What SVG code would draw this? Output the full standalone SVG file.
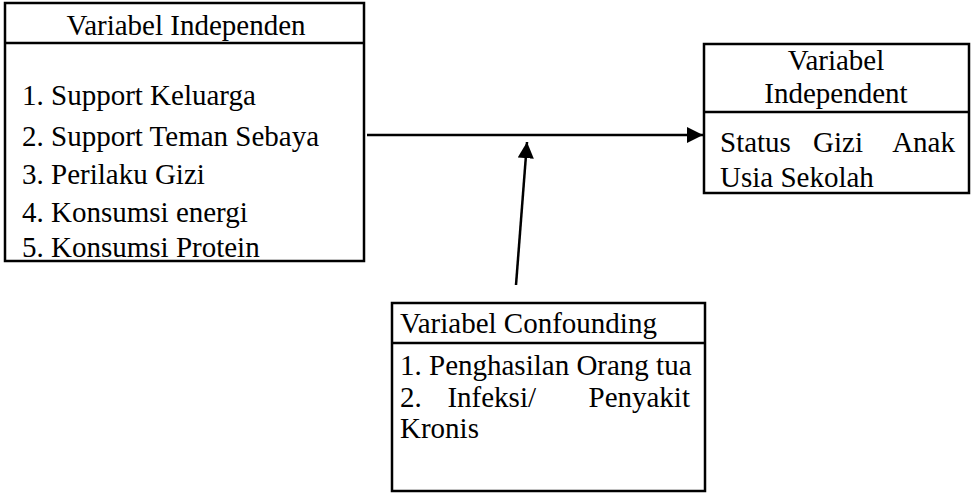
<svg xmlns="http://www.w3.org/2000/svg" width="971" height="493" viewBox="0 0 971 493">
<style>
.box{fill:#fff;stroke:#000;stroke-width:2.5}
.div{stroke:#000;stroke-width:2.5}
text{font-family:"Liberation Serif","Times New Roman",serif;font-size:29px;fill:#000}
.c{text-anchor:middle}
.e{text-anchor:end}
.ln{stroke:#000;stroke-width:2.5;fill:none}
</style>
<defs>
<marker id="ah" viewBox="0 0 10 10" refX="10" refY="5" markerWidth="6.5" markerHeight="6.5" markerUnits="strokeWidth" orient="auto">
<path d="M0,0 L10,5 L0,10 z" fill="#000"/>
</marker>
</defs>
<g id="independen">
<rect class="box" x="5" y="3" width="359" height="258"/>
<line class="div" x1="5" y1="43" x2="364" y2="43"/>
<text class="c" x="186" y="35">Variabel Independen</text>
<text x="22" y="105">1. Support Keluarga</text>
<text x="22" y="146">2. Support Teman Sebaya</text>
<text x="22" y="184">3. Perilaku Gizi</text>
<text x="22" y="222">4. Konsumsi energi</text>
<text x="22" y="257">5. Konsumsi Protein</text>
</g>
<g id="dependent">
<rect class="box" x="704" y="44" width="265" height="149"/>
<line class="div" x1="704" y1="112" x2="969" y2="112"/>
<text class="c" x="836" y="70">Variabel</text>
<text class="c" x="836" y="103">Independent</text>
<text x="720" y="152">Status</text>
<text x="838" y="152" class="c">Gizi</text>
<text x="955" y="152" class="e">Anak</text>
<text x="720" y="187">Usia Sekolah</text>
</g>
<g id="confounding">
<rect class="box" x="392" y="303" width="313" height="188"/>
<line class="div" x1="392" y1="343" x2="705" y2="343"/>
<text x="400" y="333">Variabel Confounding</text>
<text x="400" y="375">1. Penghasilan Orang tua</text>
<text x="400" y="407">2.</text>
<text x="536" y="407" class="e">Infeksi/</text>
<text x="690" y="407" class="e">Penyakit</text>
<text x="400" y="438">Kronis</text>
</g>
<g id="connectors">
<line class="ln" x1="367" y1="135" x2="703" y2="135" marker-end="url(#ah)"/>
<line class="ln" x1="516" y1="285" x2="527" y2="142" marker-end="url(#ah)"/>
</g>
</svg>
